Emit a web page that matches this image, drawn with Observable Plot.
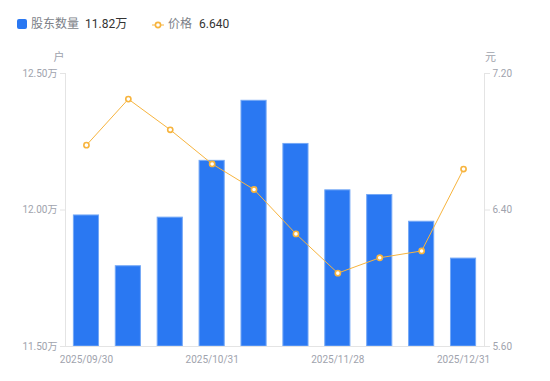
<!DOCTYPE html>
<html><head><meta charset="utf-8">
<script src="https://cdn.jsdelivr.net/npm/d3@7"></script>
<script src="https://cdn.jsdelivr.net/npm/@observablehq/plot@0.6"></script>
<style>
body{margin:0;background:#fff;font-family:Roboto,"Noto Sans CJK SC",sans-serif;}
#legend{position:relative;width:550px;height:48px;font-size:12px;}
#legend span{position:absolute;top:17px;line-height:15px;white-space:nowrap;}
.lab{color:#7c7f88;}
.val{color:#333;}
#chart{position:relative;width:550px;height:333px;}
#chart svg{position:absolute;left:0;top:0;}
</style></head>
<body>
<div id="legend">
  <div style="position:absolute;left:17px;top:19px;width:10px;height:10px;border-radius:2px;background:#2a78f2"></div>
  <span class="lab" style="left:31px">股东数量</span>
  <span class="val" style="left:85px">11.82万</span>
  <svg style="position:absolute;left:152px;top:19px" width="12" height="12"><line x1="0" y1="6" x2="12" y2="6" stroke="#f7b43e" stroke-width="1"/><circle cx="6" cy="6" r="2.6" fill="#fff" stroke="#f7b43e" stroke-width="1.6"/></svg>
  <span class="lab" style="left:168px">价格</span>
  <span class="val" style="left:199px">6.640</span>
</div>
<div id="chart"></div>
<script>
const dates = ["2025/09/30","2025/10/17","2025/10/24","2025/10/31","2025/11/07","2025/11/14","2025/11/28","2025/12/12","2025/12/19","2025/12/31"];
const holders = [119800,117940,119720,121800,124000,122420,120720,120550,119570,118220];
const prices = [6.78,7.05,6.87,6.67,6.52,6.26,6.03,6.12,6.16,6.64];
const xTicks = ["2025/09/30","2025/10/31","2025/11/28","2025/12/31"];
const leftTicks = [115000,120000,125000];
const rightTicks = [5.6,6.4,7.2];

const data = dates.map((d,i)=>({date:d, holders:holders[i], price:prices[i]}));
const textColor = "#a0a3ad", lineColor = "#e4e4e4";
const common = {
  width:550, height:333, marginTop:25, marginBottom:35, marginLeft:65, marginRight:66,
  style:{fontFamily:"Roboto, 'Noto Sans CJK SC', sans-serif", fontSize:"10px", background:"transparent"},
  x:{domain:dates, paddingInner:0.4, paddingOuter:0.2, round:false, label:null}
};
const p1 = Plot.plot({
  ...common,
  y:{domain:[115000,125000], label:null},
  marks:[
    Plot.barY(data,{x:"date", y1:115000, y2:"holders", fill:"#2a78f2", stroke:"#74a8f6", strokeWidth:1}),
    Plot.frame({anchor:"left", stroke:lineColor}),
    Plot.ruleY([115000],{stroke:lineColor}),
    Plot.axisY({anchor:"left", ticks:leftTicks, tickFormat:v=>(v/10000).toFixed(2)+"万", tickSize:5, tickPadding:3, stroke:lineColor, fill:textColor, label:null}),
    Plot.axisX({ticks:xTicks, tickSize:0, tickPadding:9, fill:textColor, label:null}),
    Plot.text(["户"],{frameAnchor:"top-left", textAnchor:"middle", lineAnchor:"middle", dx:-6.5, dy:-16, fill:textColor, fontSize:11})
  ]
});
const p2 = Plot.plot({
  ...common,
  y:{domain:[5.6,7.2], label:null},
  marks:[
    Plot.frame({anchor:"right", stroke:lineColor}),
    Plot.axisY({anchor:"right", ticks:rightTicks, tickFormat:v=>v.toFixed(2), tickSize:5, tickPadding:3, stroke:lineColor, fill:textColor, label:null}),
    Plot.axisX({ticks:[], label:null}),
    Plot.line(data,{x:"date", y:"price", stroke:"#f7b43e", strokeWidth:1}),
    Plot.dot(data,{x:"date", y:"price", r:2.6, fill:"#fff", stroke:"#f7b43e", strokeWidth:1.6}),
    Plot.text(["元"],{frameAnchor:"top-right", textAnchor:"middle", lineAnchor:"middle", dx:6, dy:-16, fill:textColor, fontSize:11})
  ]
});
document.getElementById("chart").append(p1, p2);
</script>
</body></html>
